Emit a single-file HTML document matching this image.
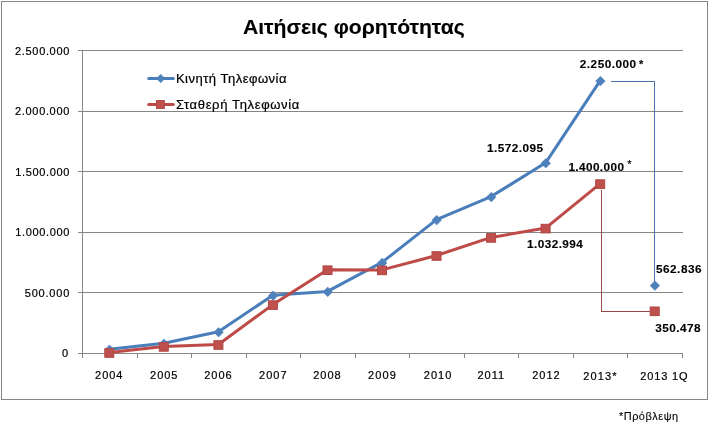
<!DOCTYPE html>
<html lang="el"><head><meta charset="utf-8"><title>Αιτήσεις φορητότητας</title>
<style>html,body{margin:0;padding:0;background:#fff}svg{display:block}text{font-family:"Liberation Sans","DejaVu Sans",sans-serif;fill:#000;stroke:#000;stroke-width:.2px}text[font-weight=bold]{stroke-width:.12px}</style></head><body>
<svg width="714" height="432" viewBox="0 0 714 432">
<rect x="0" y="0" width="714" height="432" fill="#fff"/>
<rect x="1.5" y="1.5" width="706" height="398" fill="#fff" stroke="#868686" stroke-width="1"/>
<path d="M77.5 50.5H683.0 M77.5 111.5H683.0 M77.5 171.5H683.0 M77.5 232.5H683.0 M77.5 292.5H683.0 M77.5 353.5H683.0 M82.5 50.0V358.0 M137.5 353.5V358.0 M191.5 353.5V358.0 M246.5 353.5V358.0 M300.5 353.5V358.0 M355.5 353.5V358.0 M409.5 353.5V358.0 M464.5 353.5V358.0 M518.5 353.5V358.0 M573.5 353.5V358.0 M627.5 353.5V358.0 M682.5 353.5V358.0" fill="none" stroke="#868686" stroke-width="1" shape-rendering="crispEdges"/>
<path d="M611 81.5H654.5V281" fill="none" stroke="#4f72a8" stroke-width="1" shape-rendering="crispEdges"/>
<path d="M601.5 190V311.5H650" fill="none" stroke="#96484a" stroke-width="1" shape-rendering="crispEdges"/>
<polyline points="109.3,349.2 163.8,343.2 218.4,331.7 272.9,295.2 327.5,291.4 382.0,262.4 436.5,219.6 491.1,196.6 545.6,162.8 600.2,80.6" fill="none" stroke="#4a7ebb" stroke-width="3" stroke-linejoin="round" stroke-linecap="round"/>
<path d="M109.5 344.9L114.3 349.7L109.5 354.5L104.7 349.7Z" fill="#4f81bd" stroke="#4a7ebb" stroke-width="0.5"/>
<path d="M164.0 338.9L168.8 343.7L164.0 348.5L159.2 343.7Z" fill="#4f81bd" stroke="#4a7ebb" stroke-width="0.5"/>
<path d="M218.6 327.4L223.4 332.2L218.6 337.0L213.8 332.2Z" fill="#4f81bd" stroke="#4a7ebb" stroke-width="0.5"/>
<path d="M273.1 290.9L277.9 295.7L273.1 300.5L268.3 295.7Z" fill="#4f81bd" stroke="#4a7ebb" stroke-width="0.5"/>
<path d="M327.7 287.1L332.5 291.9L327.7 296.7L322.9 291.9Z" fill="#4f81bd" stroke="#4a7ebb" stroke-width="0.5"/>
<path d="M382.2 258.1L387.0 262.9L382.2 267.7L377.4 262.9Z" fill="#4f81bd" stroke="#4a7ebb" stroke-width="0.5"/>
<path d="M436.7 215.3L441.5 220.1L436.7 224.9L431.9 220.1Z" fill="#4f81bd" stroke="#4a7ebb" stroke-width="0.5"/>
<path d="M491.3 192.3L496.1 197.1L491.3 201.9L486.5 197.1Z" fill="#4f81bd" stroke="#4a7ebb" stroke-width="0.5"/>
<path d="M545.8 158.5L550.6 163.3L545.8 168.1L541.0 163.3Z" fill="#4f81bd" stroke="#4a7ebb" stroke-width="0.5"/>
<path d="M600.4 76.3L605.2 81.1L600.4 85.9L595.6 81.1Z" fill="#4f81bd" stroke="#4a7ebb" stroke-width="0.5"/>
<path d="M654.9 280.8L659.7 285.6L654.9 290.4L650.1 285.6Z" fill="#4f81bd" stroke="#4a7ebb" stroke-width="0.5"/>
<polyline points="109.3,352.5 163.8,346.4 218.4,344.5 272.9,304.6 327.5,269.7 382.0,269.9 436.5,255.5 491.1,237.4 545.6,228.1 600.2,183.6" fill="none" stroke="#be4b48" stroke-width="3" stroke-linejoin="round" stroke-linecap="round"/>
<rect x="104.8" y="348.7" width="9.0" height="8.6" fill="#c0504d" stroke="#b04644" stroke-width="1"/>
<rect x="159.3" y="342.6" width="9.0" height="8.6" fill="#c0504d" stroke="#b04644" stroke-width="1"/>
<rect x="213.9" y="340.7" width="9.0" height="8.6" fill="#c0504d" stroke="#b04644" stroke-width="1"/>
<rect x="268.4" y="300.8" width="9.0" height="8.6" fill="#c0504d" stroke="#b04644" stroke-width="1"/>
<rect x="323.0" y="265.9" width="9.0" height="8.6" fill="#c0504d" stroke="#b04644" stroke-width="1"/>
<rect x="377.5" y="266.1" width="9.0" height="8.6" fill="#c0504d" stroke="#b04644" stroke-width="1"/>
<rect x="432.0" y="251.7" width="9.0" height="8.6" fill="#c0504d" stroke="#b04644" stroke-width="1"/>
<rect x="486.6" y="233.6" width="9.0" height="8.6" fill="#c0504d" stroke="#b04644" stroke-width="1"/>
<rect x="541.1" y="224.3" width="9.0" height="8.6" fill="#c0504d" stroke="#b04644" stroke-width="1"/>
<rect x="595.7" y="179.8" width="9.0" height="8.6" fill="#c0504d" stroke="#b04644" stroke-width="1"/>
<rect x="650.2" y="307.0" width="9.0" height="8.6" fill="#c0504d" stroke="#b04644" stroke-width="1"/>
<path d="M148.7 78.5H173.3" stroke="#4a7ebb" stroke-width="3" stroke-linecap="round"/>
<path d="M160.7 74.2L165.0 78.5L160.7 82.8L156.4 78.5Z" fill="#4f81bd" stroke="#4a7ebb" stroke-width="0.5"/>
<path d="M148.7 104.5H173.3" stroke="#be4b48" stroke-width="3" stroke-linecap="round"/>
<rect x="156.5" y="100.6" width="7.8" height="7.8" fill="#c0504d" stroke="#b04644" stroke-width="1"/>
<text transform="translate(242.98 33.7) scale(1.085 1)" font-size="19.5" font-weight="bold">Αιτήσεις φορητότητας</text>
<text transform="translate(175.88 82.7) scale(1.060 1)" font-size="12.3" style="letter-spacing:0.47px">Κινητή Τηλεφωνία</text>
<text transform="translate(175.97 108.8) scale(1.060 1)" font-size="12.3" style="letter-spacing:0.60px">Σταθερή Τηλεφωνία</text>
<text transform="translate(62.12 357.2)" font-size="11">0</text>
<text transform="translate(24.77 297.1)" font-size="11" style="letter-spacing:0.79px">500.000</text>
<text transform="translate(15.35 235.9)" font-size="11" style="letter-spacing:0.62px">1.000.000</text>
<text transform="translate(15.35 175.9)" font-size="11" style="letter-spacing:0.62px">1.500.000</text>
<text transform="translate(15.08 115.3)" font-size="11" style="letter-spacing:0.66px">2.000.000</text>
<text transform="translate(15.08 55.2)" font-size="11" style="letter-spacing:0.66px">2.500.000</text>
<text transform="translate(95.10 379.1)" font-size="11" style="letter-spacing:0.92px">2004</text>
<text transform="translate(150.02 379.1)" font-size="11" style="letter-spacing:1.00px">2005</text>
<text transform="translate(204.20 379.1)" font-size="11" style="letter-spacing:1.00px">2006</text>
<text transform="translate(259.10 379.1)" font-size="11" style="letter-spacing:1.00px">2007</text>
<text transform="translate(313.22 379.1)" font-size="11" style="letter-spacing:1.00px">2008</text>
<text transform="translate(367.98 379.1)" font-size="11" style="letter-spacing:1.17px">2009</text>
<text transform="translate(423.80 379.1)" font-size="11" style="letter-spacing:1.00px">2010</text>
<text transform="translate(477.50 379.1)" font-size="11" style="letter-spacing:1.00px">2011</text>
<text transform="translate(532.18 379.1)" font-size="11" style="letter-spacing:1.00px">2012</text>
<text transform="translate(583.27 380.0)" font-size="11" style="letter-spacing:1.12px">2013*</text>
<text transform="translate(640.30 380.0)" font-size="11" style="letter-spacing:0.83px">2013 1Q</text>
<text transform="translate(579.80 68.0) scale(1.070 1)" font-size="11" font-weight="bold" style="letter-spacing:0.47px">2.250.000</text>
<text transform="translate(638.95 67.6)" font-size="11" font-weight="bold">*</text>
<text transform="translate(486.92 152.1) scale(1.070 1)" font-size="11" font-weight="bold" style="letter-spacing:0.44px">1.572.095</text>
<text transform="translate(568.38 171.0) scale(1.070 1)" font-size="11" font-weight="bold" style="letter-spacing:0.38px">1.400.000</text>
<text transform="translate(627.30 167.6)" font-size="11">*</text>
<text transform="translate(527.05 248.1) scale(1.070 1)" font-size="11" font-weight="bold" style="letter-spacing:0.41px">1.032.994</text>
<text transform="translate(656.00 272.9) scale(1.070 1)" font-size="11" font-weight="bold" style="letter-spacing:0.47px">562.836</text>
<text transform="translate(655.35 331.8) scale(1.070 1)" font-size="11" font-weight="bold" style="letter-spacing:0.43px">350.478</text>
<text transform="translate(618.95 419.9) scale(1.040 1)" font-size="10.5" style="letter-spacing:0.51px;stroke-width:.1px">*Πρόβλεψη</text>
</svg></body></html>
